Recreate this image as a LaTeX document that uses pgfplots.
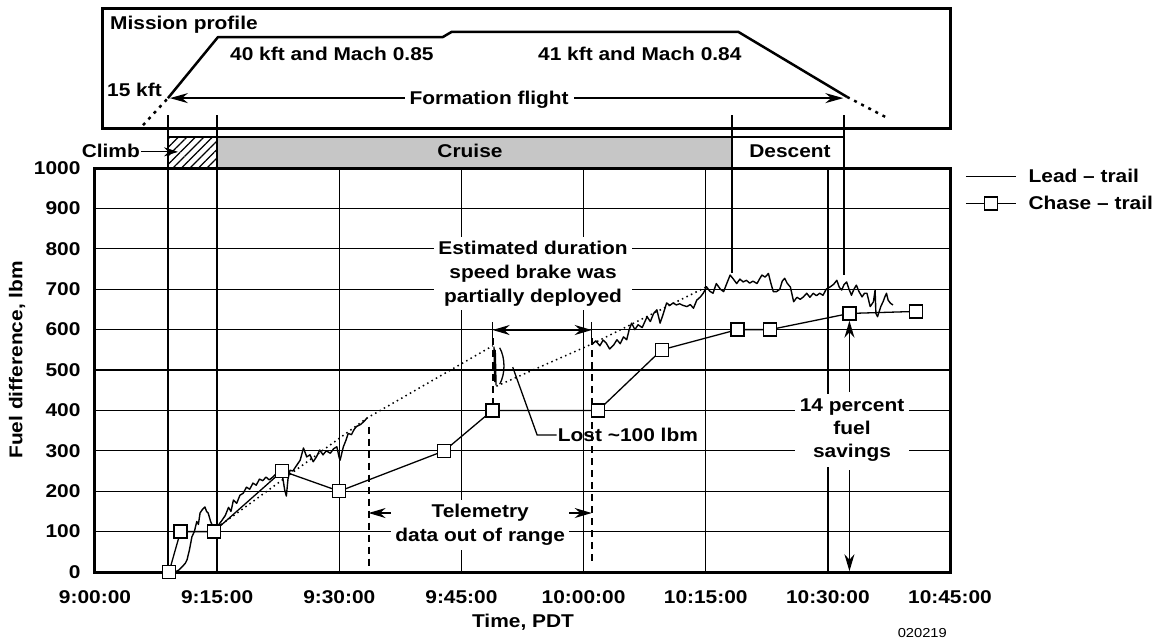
\documentclass[border=0pt]{standalone}
\usepackage{fontspec}
\setmainfont{Liberation Sans}[FakeStretch=1.13]
\usepackage{pgfplots}
\pgfplotsset{compat=1.18}
\usetikzlibrary{arrows.meta,patterns.meta}
\newcommand\fs{\fontsize{18.5pt}{24pt}\selectfont\bfseries}
\newcommand\fss{\fontsize{18.5pt}{23pt}\selectfont\bfseries}
\tikzset{
  arr/.style={line width=1.4pt,-{Stealth[length=17pt,width=10pt]}},
  darr/.style={line width=1.4pt,{Stealth[length=17pt,width=10pt]}-{Stealth[length=17pt,width=10pt]}},
  dsh/.style={line width=1.8pt,dash pattern=on 7pt off 5pt},
}
\begin{document}
\begin{tikzpicture}
\useasboundingbox (0,0) rectangle (1162pt,-638pt);
\begin{axis}[
  at={(95pt,-572pt)}, anchor=south west,
  width=855pt, height=404pt, scale only axis,
  xmin=0, xmax=105, ymin=0, ymax=1000,
  xtick={0,15,30,45,60,75,90,105},
  xticklabels={9:00:00,9:15:00,9:30:00,9:45:00,10:00:00,10:15:00,10:30:00,10:45:00},
  ytick={0,100,200,300,400,500,600,700,800,900,1000},
  yticklabels={0,100,200,300,400,500,600,700,800,900,1000},
  grid=major, major grid style={black,line width=1.3pt},
  axis line style={line width=3pt},
  major tick length=0pt,
  tick label style={font=\fs},
  xticklabel style={yshift=-15pt},
  yticklabel style={xshift=-11pt},
  xlabel={Time, PDT}, ylabel={Fuel difference, lbm},
  label style={font=\fs},
  xlabel style={at={(axis description cs:0.5006,-0.124)},anchor=center},
  ylabel style={at={(axis description cs:-0.0912,0.525)},anchor=center},
  clip=false,
  legend style={at={(axis description cs:1,1)}, anchor=north west, xshift=12pt, yshift=3pt,
    draw=none, fill=none, font=\fs, row sep=8pt,
    /tikz/every odd column/.append style={column sep=10pt}},
  legend cell align=left,
  legend image code/.code={\draw[mark repeat=2,mark phase=2,#1] plot coordinates {(0pt,0pt) (25pt,0pt) (50pt,0pt)};},
]
\addlegendimage{black,line width=1.4pt}
\addlegendentry{Lead \textendash{} trail}

% dotted trend lines
\addplot[black,line width=1.5pt,dash pattern=on 1.5pt off 3.5pt,forget plot] coordinates {(15,110) (33.4,381) (48.85,560)};
\addplot[black,line width=1.5pt,dash pattern=on 1.5pt off 3.5pt,forget plot] coordinates {(49.3,460) (61.1,565) (75.1,706)};

% lead - trail segments
\addplot[black,line width=1.4pt,line join=round,forget plot] coordinates {
(9.8,0) (10.3,5) (10.8,15) (11.1,22) (11.3,30) (11.6,55) (11.9,87) (12.2,100) (12.5,125) (12.7,118) (12.9,146) (13.2,155) (13.5,161) (13.7,150) (13.9,146) (14.2,125) (14.5,111) (14.8,105)
(15.3,120) (15.6,128) (16.0,140) (16.4,160) (16.7,150) (17.0,178) (17.4,170) (17.8,190) (18.2,195) (18.6,210) (19.0,205) (19.4,220) (19.8,215) (20.2,230) (20.6,226) (21.0,235) (21.4,228) (21.9,236) (22.3,245) (22.7,248) (23.0,240) (23.3,203) (23.5,188) (23.7,230) (23.95,252) (24.3,250) (24.7,262) (25.2,277) (25.6,307) (26.0,285) (26.4,290) (26.8,273) (27.2,285) (27.6,302) (28.0,290) (28.4,300) (28.9,294) (29.3,305) (29.7,310) (30.0,282) (30.1,277) (30.5,310) (30.8,325) (31.1,343) (31.5,340) (31.8,352) (32.1,360) (32.6,365) (33.0,372) (33.4,381)};
\addplot[black,line width=1.4pt,forget plot] coordinates {(49.0,558) (49.1,470) (49.15,550) (49.25,462)};
\addplot[black,line width=1.4pt,line join=round,forget plot] coordinates {
(61.1,565) (61.5,572) (62.0,560) (62.4,574) (62.8,566) (63.2,552) (63.7,562) (64.1,575) (64.5,565) (64.9,582) (65.3,575) (65.6,600) (65.9,616) (66.3,600) (66.7,612) (67.2,605) (67.8,632) (68.2,620) (68.6,640) (69.0,649) (69.4,616) (69.8,640) (70.2,666) (70.6,660) (71.0,666) (71.4,661) (71.8,664) (72.2,660) (72.7,657) (73.1,662) (73.5,653) (73.9,673) (74.3,680) (74.7,690) (75.1,706) (75.5,695) (75.9,690) (76.3,714) (76.8,700) (77.2,694) (77.6,715) (78.0,735) (78.4,725) (78.8,714) (79.2,725) (79.6,718) (80.0,722) (80.4,715) (80.8,720) (81.3,714) (81.6,725) (81.9,735) (82.3,730) (82.7,739) (83.0,715) (83.3,694) (83.7,694) (84.1,700) (84.4,720) (84.7,727) (85.0,715) (85.4,705) (85.8,669) (86.2,680) (86.6,675) (87.0,681) (87.4,690) (87.8,680) (88.2,690) (88.6,684) (89.0,690) (89.4,685) (89.8,700) (90.3,706) (90.7,712) (91.1,722) (91.4,705) (91.7,698) (92.0,712) (92.3,718) (92.6,700) (92.9,685) (93.2,700) (93.5,710) (93.8,695) (94.2,681) (94.5,690) (94.8,690) (95.2,657) (95.6,669) (95.8,698) (95.9,640) (96.1,632) (96.5,657) (96.8,670) (97.0,681) (97.2,690) (97.4,673) (97.7,665) (98.0,661)};

% chase - trail
\addplot[black,line width=1.3pt,mark=square*,mark size=6.5pt,mark options={fill=white,draw=black,line width=1.3pt,solid}] coordinates {
(9.09,0) (10.5,100) (14.6,100) (23.0,250) (30.0,200) (42.9,300) (48.8,400) (61.8,400) (69.6,550) (78.9,600) (82.9,600) (92.65,640) (100.8,645)};
\addlegendentry{Chase \textendash{} trail}

% ---------- mission profile box ----------
\draw[line width=3pt] (axis cs:0.95,1099) rectangle (axis cs:105,1396);
\draw[line width=2.5pt,line join=round] (axis cs:8.96,1173) -- (axis cs:15.1,1324) -- (axis cs:42.7,1324) -- (axis cs:43.8,1337) -- (axis cs:79.0,1337) -- (axis cs:92.35,1176);
\draw[line width=2.5pt,dash pattern=on 3pt off 5pt] (axis cs:5.9,1106) -- (axis cs:8.96,1173);
\draw[line width=2.5pt,dash pattern=on 3pt off 5pt] (axis cs:92.35,1176) -- (axis cs:97.3,1124);
\node[anchor=base west,inner sep=0pt,font=\fs] at (axis cs:1.84,1342) {Mission profile};
\node[anchor=base west,inner sep=0pt,font=\fs] at (axis cs:16.58,1267) {40 kft and Mach 0.85};
\node[anchor=base west,inner sep=0pt,font=\fs] at (axis cs:54.4,1267) {41 kft and Mach 0.84};
\node[anchor=base west,inner sep=0pt,font=\fs] at (axis cs:1.47,1176) {15 kft};
\draw[line width=1.3pt,{Stealth[length=18pt,width=10pt]}-{Stealth[length=18pt,width=10pt]}] (axis cs:9.2,1173) -- (axis cs:91.9,1173);
\node[fill=white,inner xsep=5pt,inner ysep=2pt,anchor=base,font=\fs] at (axis cs:48.4,1156) {Formation flight};

% ---------- phase band ----------
\fill[gray!45] (axis cs:15,1000) rectangle (axis cs:78.23,1077);
\fill[pattern={Lines[angle=45,distance=6pt,line width=1.2pt]}] (axis cs:8.96,1000) rectangle (axis cs:15,1077);
\draw[line width=1.3pt] (axis cs:8.96,1000) rectangle (axis cs:91.98,1077);
\draw[line width=1.5pt] (axis cs:8.96,1131) -- (axis cs:8.96,0);
\draw[line width=1.5pt] (axis cs:15,1131) -- (axis cs:15,1000);
\draw[line width=2pt] (axis cs:78.23,1131) -- (axis cs:78.23,740);
\draw[line width=2pt] (axis cs:91.98,1131) -- (axis cs:91.98,735);
\node[anchor=base east,inner sep=0pt,font=\fs] at (axis cs:5.53,1025) {Climb};
\draw[line width=1.3pt,-{Stealth[length=14pt,width=9pt]}] (axis cs:5.7,1040) -- (axis cs:10.2,1040);
\node[anchor=base,inner sep=0pt,font=\fs] at (axis cs:46.05,1025) {Cruise};
\node[anchor=base,inner sep=0pt,font=\fs] at (axis cs:85.35,1025) {Descent};

% ---------- annotations in the plot ----------
\draw[darr] (axis cs:48.84,599) -- (axis cs:61.0,599);
\draw[line width=1.5pt] (axis cs:48.84,578) -- (axis cs:48.84,620);
\draw[line width=1.5pt] (axis cs:61.0,578) -- (axis cs:61.0,620);
\draw[dsh] (axis cs:48.84,578) -- (axis cs:48.84,410);
\draw[dsh] (axis cs:61.0,578) -- (axis cs:61.0,15);
\draw[dsh] (axis cs:33.6,360) -- (axis cs:33.6,10);
\node[fill=white,align=center,font=\fs,inner sep=4pt] at (axis cs:53.8,738) {Estimated duration\\speed brake was\\partially deployed};

\draw[line width=1.3pt] (axis cs:49.7,555) .. controls (axis cs:50.4,530) and (axis cs:50.4,490) .. (axis cs:49.7,465);
\draw[line width=1.3pt] (axis cs:51.3,507) -- (axis cs:54.3,339) -- (axis cs:56.7,339);
\node[anchor=west,font=\fs,inner sep=1pt] at (axis cs:56.7,339) {Lost \textasciitilde100 lbm};

\draw[darr] (axis cs:33.6,146) -- (axis cs:61.0,146);
\node[fill=white,align=center,font=\fs,inner sep=4pt] at (axis cs:47.3,116) {Telemetry\\data out of range};

\draw[arr] (axis cs:92.65,445) -- (axis cs:92.65,622);
\draw[arr] (axis cs:92.65,252) -- (axis cs:92.65,2);
\node[fill=white,align=center,font=\fss,inner sep=5pt] at (axis cs:92.97,351) {14 percent\\fuel\\savings};

\node[font=\fontsize{13pt}{13pt}\selectfont] at (axis cs:101.6,-150) {020219};
\end{axis}
\end{tikzpicture}
\end{document}
